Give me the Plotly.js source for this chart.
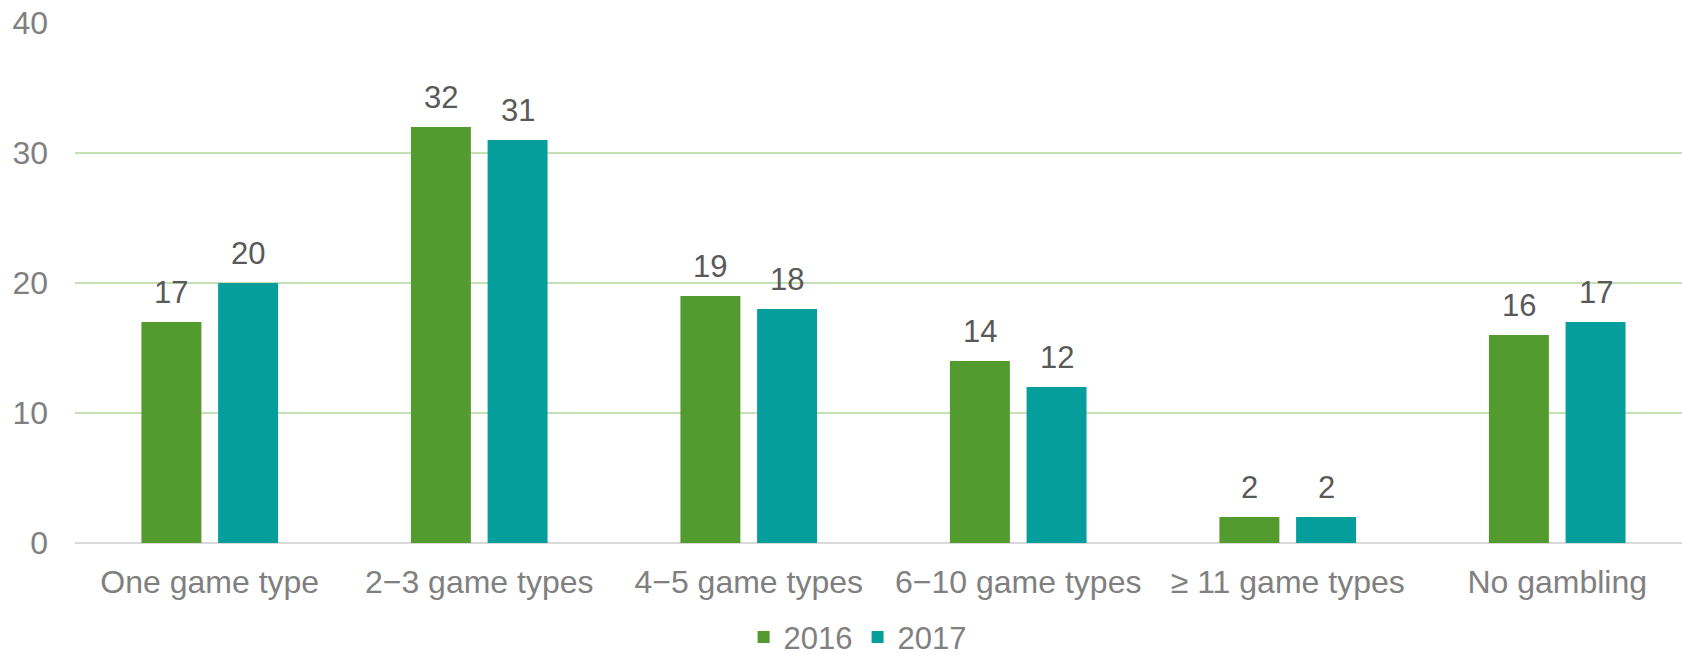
<!DOCTYPE html>
<html>
<head>
<meta charset="utf-8">
<script src="https://cdn.plot.ly/plotly-3.0.1.min.js"></script>
<style>html,body{margin:0;padding:0;background:#fff;}#chart{width:1682px;height:655px;}</style>
</head>
<body>
<div id="chart"></div>
<script>
const categories = ["One game type", "2\u22123 game types", "4\u22125 game types", "6\u221210 game types", "\u2265 11 game types", "No gambling"];
const values2016 = [17, 32, 19, 14, 2, 16];
const values2017 = [20, 31, 18, 12, 2, 17];
const seriesNames = ["2016", "2017"];
const yTicks = [0, 10, 20, 30, 40];

const FONT = "Liberation Sans, Arial, sans-serif";
const GREEN = "#539b2f";
const TEAL = "#069e9d";

const traces = [
  {type: "bar", name: seriesNames[0], x: categories, y: values2016, marker: {color: GREEN}, hoverinfo: "none"},
  {type: "bar", name: seriesNames[1], x: categories, y: values2017, marker: {color: TEAL}, hoverinfo: "none"}
];

const annotations = [];
const OFF = 38.3;
[values2016, values2017].forEach((vals, s) => {
  vals.forEach((v, i) => {
    annotations.push({
      x: categories[i], y: v, xref: "x", yref: "y",
      text: String(v), showarrow: false,
      xshift: s === 0 ? -OFF : OFF, yshift: 30, yanchor: "middle",
      font: {family: FONT, size: 31, color: "#595959"}
    });
  });
});

const layout = {
  width: 1682, height: 655,
  margin: {l: 75, r: 0, t: 23, b: 112, pad: 0, autoexpand: false},
  paper_bgcolor: "#fff", plot_bgcolor: "#fff",
  barmode: "group", bargap: 0.431, bargroupgap: 0.218,
  font: {family: FONT, size: 32, color: "#808080"},
  xaxis: {
    type: "category", range: [-0.5, 5.463], automargin: false,
    showgrid: false, showline: false, zeroline: false, ticks: "",
    tickfont: {family: FONT, size: 32, color: "#808080"},
    ticklabelstandoff: 17
  },
  yaxis: {
    range: [0, 40], tickvals: yTicks, ticktext: yTicks.map(String), automargin: false,
    showgrid: true, gridcolor: "#c5e0b4", gridwidth: 1.5,
    zeroline: true, zerolinecolor: "#d9d9d9", zerolinewidth: 2,
    showline: false, ticks: "",
    tickfont: {family: FONT, size: 32, color: "#808080"},
    ticklabelstandoff: 26
  },
  showlegend: true,
  legend: {
    orientation: "h", x: 0.487, xanchor: "center",
    yref: "container", y: 0.027, yanchor: "middle",
    font: {family: FONT, size: 31, color: "#808080"},
    itemwidth: 30, traceorder: "normal"
  },
  annotations: annotations
};

Plotly.newPlot("chart", traces, layout, {displayModeBar: false, staticPlot: true});
</script>
</body>
</html>
